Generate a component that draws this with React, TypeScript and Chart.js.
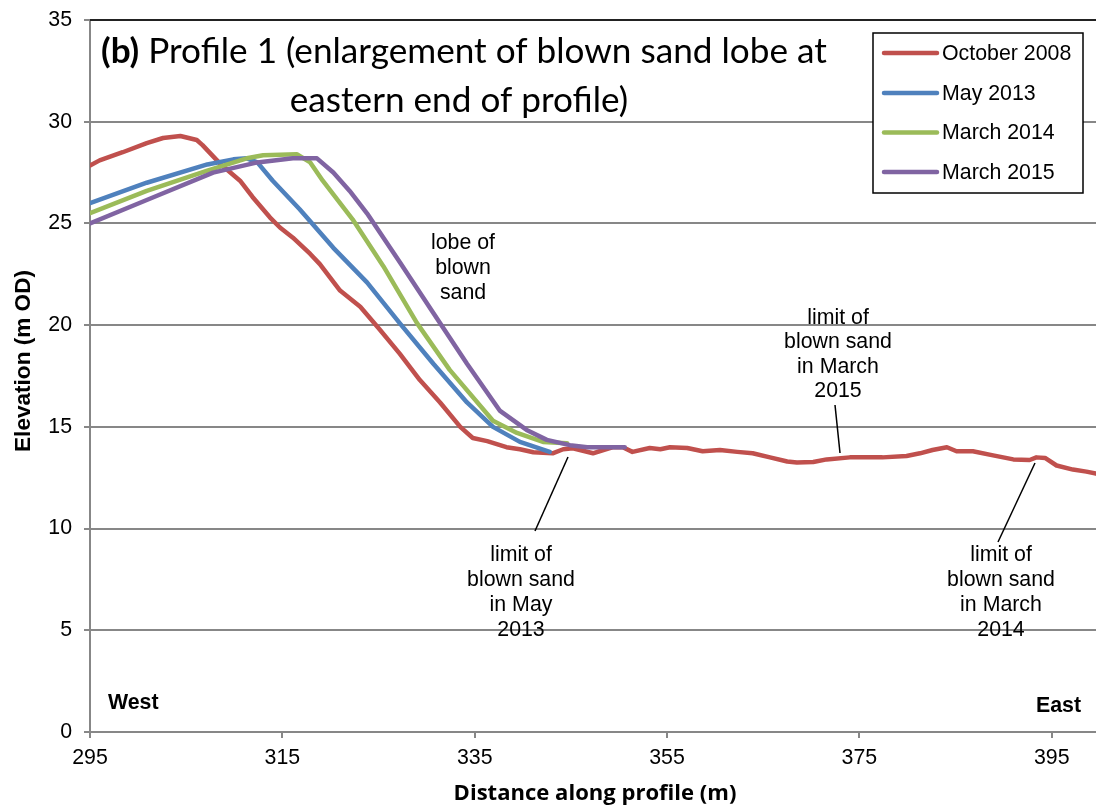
import React, { useEffect, useRef } from "react";
import { Chart, registerables } from "chart.js";

Chart.register(...registerables);

// ---- Data ----
const oct2008X = [295.0, 296.0, 298.4, 300.9, 302.6, 304.4, 306.1, 306.7, 308.5, 310.6, 311.9, 313.7, 314.75, 316.1, 317.9, 318.9, 321.0, 323.1, 325.1, 327.2, 329.3, 331.4, 333.5, 334.8, 336.3, 338.3, 339.7, 341.1, 343.1, 344.2, 345.2, 347.3, 348.3, 349.4, 350.4, 351.4, 353.2, 354.3, 355.3, 357.1, 358.7, 360.5, 362.3, 363.9, 365.7, 367.5, 368.5, 370.2, 371.6, 374.0, 375.8, 377.4, 379.9, 381.3, 382.6, 384.1, 385.1, 386.8, 388.9, 391.0, 392.7, 393.4, 394.3, 395.5, 397.2, 398.6, 399.6];
const oct2008Y = [27.85, 28.1, 28.5, 28.95, 29.2, 29.3, 29.1, 28.85, 27.95, 27.1, 26.3, 25.3, 24.8, 24.3, 23.5, 23.0, 21.7, 20.9, 19.8, 18.6, 17.3, 16.2, 15.0, 14.45, 14.3, 14.0, 13.9, 13.75, 13.7, 13.9, 13.95, 13.7, 13.85, 14.0, 14.0, 13.77, 13.96, 13.9, 14.0, 13.96, 13.8, 13.86, 13.77, 13.7, 13.5, 13.3, 13.25, 13.27, 13.4, 13.5, 13.5, 13.5, 13.57, 13.7, 13.86, 14.0, 13.8, 13.8, 13.6, 13.4, 13.37, 13.5, 13.47, 13.1, 12.9, 12.8, 12.7];

const may2013X = [295.0, 300.9, 307.2, 309.9, 311.3, 312.4, 314.0, 316.8, 320.3, 323.8, 327.2, 330.7, 334.2, 336.9, 339.7, 342.8];
const may2013Y = [26.0, 27.0, 27.9, 28.15, 28.2, 28.0, 27.1, 25.7, 23.8, 22.1, 20.1, 18.1, 16.2, 15.0, 14.26, 13.77];

const mar2014X = [295.0, 300.9, 307.2, 311.3, 313.0, 316.5, 317.9, 319.2, 322.3, 325.5, 329.0, 332.4, 336.9, 339.4, 342.1, 344.6];
const mar2014Y = [25.5, 26.6, 27.6, 28.2, 28.35, 28.4, 28.0, 27.1, 25.2, 22.9, 20.1, 17.8, 15.3, 14.7, 14.26, 14.2];

const mar2015X = [295.0, 300.9, 307.8, 312.4, 316.1, 318.6, 320.3, 322.0, 323.8, 327.2, 330.7, 334.2, 337.6, 340.4, 342.5, 344.9, 346.7, 348.7, 350.6];
const mar2015Y = [25.0, 26.15, 27.5, 28.0, 28.2, 28.2, 27.5, 26.6, 25.5, 23.1, 20.6, 18.1, 15.8, 14.85, 14.36, 14.1, 14.0, 14.0, 14.0];

const seriesLabels = ["October 2008", "May 2013", "March 2014", "March 2015"];
const seriesColors = ["#C0504D", "#4F81BD", "#9BBB59", "#8064A2"];

const xTickValues = [295, 315, 335, 355, 375, 395];
const xMin = 295;
const xMax = 399.6;
const yMin = 0;
const yMax = 35;
const yStep = 5;

const titleBold = "(b)";
const titleRest = " Profile 1 (enlargement of blown sand lobe at";
const titleLine2 = "eastern end of profile)";
const xTitle = "Distance along profile (m)";
const yTitle = "Elevation (m OD)";

const noteLobe = ["lobe of", "blown", "sand"];
const note2015 = ["limit of", "blown sand", "in March", "2015"];
const note2013 = ["limit of", "blown sand", "in May", "2013"];
const note2014 = ["limit of", "blown sand", "in March", "2014"];

const ARIAL = "'Liberation Sans', Arial, sans-serif";
const CALIBRI = "Lato, 'Open Sans', sans-serif";
const CALIBRI_B = "'Open Sans', Lato, sans-serif";
const FS = 21.33;

function toPoints(xs: number[], ys: number[]) {
  return xs.map((x, i) => ({ x, y: ys[i] }));
}

function fitSize(ctx: CanvasRenderingContext2D, text: string, weight: string, family: string, base: number, target: number) {
  ctx.font = `${weight} ${base}px ${family}`;
  const w = ctx.measureText(text).width;
  return (base * target) / w;
}

const overlayPlugin = {
  id: "overlay",
  afterDraw(chart: any) {
    const ctx: CanvasRenderingContext2D = chart.ctx;
    const area = chart.chartArea;
    ctx.save();

    // top border
    ctx.strokeStyle = "#000";
    ctx.lineWidth = 1.5;
    ctx.beginPath();
    ctx.moveTo(area.left, area.top);
    ctx.lineTo(area.right, area.top);
    ctx.stroke();

    // Title (two lines, mixed weight)
    const tSize = 31;
    ctx.fillStyle = "#000";
    ctx.textBaseline = "alphabetic";
    ctx.font = `bold ${tSize}px ${CALIBRI}`;
    const wb = ctx.measureText(titleBold).width;
    ctx.font = `${tSize}px ${CALIBRI}`;
    const wr = ctx.measureText(titleRest).width;
    const fs = (tSize * 726) / (wb + wr);
    ctx.font = `bold ${fs}px ${CALIBRI}`;
    const wb2 = ctx.measureText(titleBold).width;
    ctx.textAlign = "left";
    ctx.fillText(titleBold, 101, 63);
    ctx.font = `${fs}px ${CALIBRI}`;
    ctx.fillText(titleRest, 101 + wb2, 63);
    ctx.textAlign = "center";
    ctx.fillText(titleLine2, 459, 112);

    // Annotation notes
    ctx.font = `${FS}px ${ARIAL}`;
    ctx.textAlign = "center";
    ctx.textBaseline = "middle";
    const drawLines = (lines: string[], cx: number, cy0: number, dy: number) => {
      lines.forEach((l, i) => ctx.fillText(l, cx, cy0 + i * dy));
    };
    drawLines(noteLobe, 463, 243, 25);
    drawLines(note2015, 838, 318, 24.5);
    drawLines(note2013, 521, 555, 25);
    drawLines(note2014, 1001, 555, 25);

    // leader lines
    ctx.strokeStyle = "#000";
    ctx.lineWidth = 1.5;
    const seg = (x1: number, y1: number, x2: number, y2: number) => {
      ctx.beginPath();
      ctx.moveTo(x1, y1);
      ctx.lineTo(x2, y2);
      ctx.stroke();
    };
    seg(835, 405, 840, 453);
    seg(568, 457, 535, 531);
    seg(1035, 463, 998, 542);

    // West / East
    ctx.font = `bold ${FS}px ${ARIAL}`;
    ctx.textAlign = "left";
    ctx.fillText("West", 108, 703);
    ctx.textAlign = "right";
    ctx.fillText("East", 1081, 706);

    // Axis titles
    const xs = fitSize(ctx, xTitle, "bold", CALIBRI_B, 22, 283);
    ctx.font = `bold ${xs}px ${CALIBRI_B}`;
    ctx.textAlign = "center";
    ctx.fillText(xTitle, 595, 794);
    const ys = fitSize(ctx, yTitle, "bold", ARIAL, 22, 182);
    ctx.save();
    ctx.translate(24, 361);
    ctx.rotate(-Math.PI / 2);
    ctx.font = `bold ${ys}px ${ARIAL}`;
    ctx.fillText(yTitle, 0, 0);
    ctx.restore();

    // Legend
    const lx = 873, ly = 33, lw = 210, lh = 160;
    ctx.fillStyle = "#fff";
    ctx.fillRect(lx, ly, lw, lh);
    ctx.strokeStyle = "#000";
    ctx.lineWidth = 1.5;
    ctx.strokeRect(lx, ly, lw, lh);
    const rows = [53, 93, 132.5, 172];
    ctx.font = `${FS}px ${ARIAL}`;
    ctx.textAlign = "left";
    ctx.textBaseline = "middle";
    chart.data.datasets.forEach((ds: any, i: number) => {
      ctx.strokeStyle = ds.borderColor;
      ctx.lineWidth = 4.5;
      ctx.lineCap = "round";
      ctx.beginPath();
      ctx.moveTo(884, rows[i]);
      ctx.lineTo(937, rows[i]);
      ctx.stroke();
      ctx.fillStyle = "#000";
      ctx.fillText(ds.label, 942, rows[i] + 1);
    });

    ctx.restore();
  },
};

export default function App() {
  const ref = useRef<HTMLCanvasElement | null>(null);

  useEffect(() => {
    if (!ref.current) return;
    const xs = [oct2008X, may2013X, mar2014X, mar2015X];
    const ys = [oct2008Y, may2013Y, mar2014Y, mar2015Y];
    const chart = new Chart(ref.current, {
      type: "line",
      data: {
        datasets: seriesLabels.map((label, i) => ({
          label,
          data: toPoints(xs[i], ys[i]),
          borderColor: seriesColors[i],
          backgroundColor: seriesColors[i],
          borderWidth: 4.5,
          pointRadius: 0,
          tension: 0,
          borderJoinStyle: "round" as const,
          borderCapStyle: "round" as const,
          order: 4 - i,
          fill: false,
        })),
      },
      options: {
        responsive: false,
        animation: false,
        layout: { padding: { top: 20, right: 0, left: 0, bottom: 0 } },
        plugins: {
          legend: { display: false },
          tooltip: { enabled: false },
          title: { display: false },
        },
        scales: {
          x: {
            type: "linear",
            min: xMin,
            max: xMax,
            afterBuildTicks: (scale: any) => {
              scale.ticks = xTickValues.map((v) => ({ value: v }));
            },
            afterFit: (scale: any) => {
              scale.height = 76;
              scale.paddingLeft = 0;
              scale.paddingRight = 0;
            },
            ticks: {
              font: { size: FS, family: ARIAL },
              color: "#000",
              padding: 7,
              maxRotation: 0,
              autoSkip: false,
              callback: (v: any) => String(v),
            },
            grid: {
              drawOnChartArea: false,
              drawTicks: true,
              tickLength: 6,
              color: "#878787",
              lineWidth: 2,
            },
            border: { color: "#878787", width: 2 },
          },
          y: {
            type: "linear",
            min: yMin,
            max: yMax,
            afterFit: (scale: any) => {
              scale.width = 90;
              scale.paddingTop = 0;
              scale.paddingBottom = 0;
            },
            ticks: {
              stepSize: yStep,
              font: { size: FS, family: ARIAL },
              color: "#000",
              padding: 12,
            },
            grid: {
              color: "#878787",
              lineWidth: 2,
              tickLength: 6,
              drawTicks: true,
            },
            border: { color: "#878787", width: 2 },
          },
        },
      },
      plugins: [overlayPlugin],
    });
    return () => chart.destroy();
  }, []);

  return (
    <div style={{ position: "absolute", left: 0, top: 0, width: 1096, height: 808, background: "#fff" }}>
      <canvas ref={ref} width={1096} height={808} style={{ display: "block", width: 1096, height: 808 }} />
    </div>
  );
}
